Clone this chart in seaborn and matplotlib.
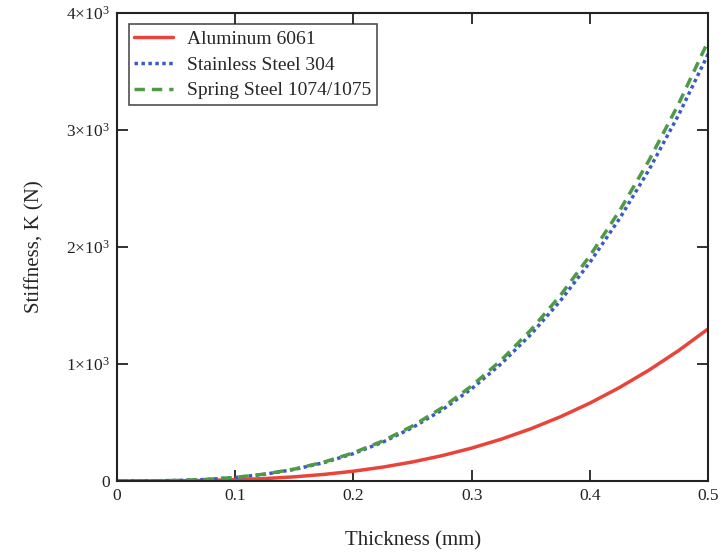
import numpy as np
import pandas as pd
import seaborn as sns
import matplotlib.pyplot as plt

# Values (thickness in mm, stiffness in N)
thickness = [0.0, 0.025, 0.05, 0.075, 0.1, 0.125, 0.15, 0.175, 0.2, 0.225, 0.25,
             0.275, 0.3, 0.325, 0.35, 0.375, 0.4, 0.425, 0.45, 0.475, 0.5]
aluminum = [0, 0.2, 1.3, 4.4, 10.4, 20.3, 35.1, 55.7, 83.2, 118.5, 162.5,
            216.3, 280.8, 357.0, 445.9, 548.4, 665.6, 798.4, 947.7, 1114.6, 1300]
stainless = [0, 0.5, 3.7, 12.3, 29.2, 57.0, 98.6, 156.5, 233.6, 332.6, 456.3,
             607.3, 788.4, 1002.4, 1252.0, 1539.8, 1868.8, 2241.6, 2660.9, 3129.4, 3650]
spring = [0, 0.5, 3.8, 12.7, 30.1, 58.8, 101.5, 161.2, 240.6, 342.6, 470.0,
          625.6, 812.2, 1032.6, 1289.7, 1586.3, 1925.1, 2309.1, 2741.0, 3223.7, 3760]

series_names = ["Aluminum 6061", "Stainless Steel 304", "Spring Steel 1074/1075"]
x_ticks = [0, 0.1, 0.2, 0.3, 0.4, 0.5]
x_tick_labels = ["0", "0.1", "0.2", "0.3", "0.4", "0.5"]
y_ticks = [0, 1000, 2000, 3000, 4000]
y_tick_labels = ["0", r"$1{\times}10^{3}$", r"$2{\times}10^{3}$", r"$3{\times}10^{3}$", r"$4{\times}10^{3}$"]

df = pd.DataFrame({"Thickness": thickness * 3,
                   "Stiffness": aluminum + stainless + spring,
                   "Material": [n for n in series_names for _ in thickness]})

sns.set_style("ticks")
plt.rcParams["font.family"] = ["Liberation Serif", "DejaVu Serif"]
plt.rcParams["mathtext.fontset"] = "custom"
plt.rcParams["mathtext.rm"] = "Liberation Serif"
plt.rcParams["mathtext.it"] = "Liberation Serif:italic"

colors = {"Aluminum 6061": "#e8443a",
          "Stainless Steel 304": "#3a5bc4",
          "Spring Steel 1074/1075": "#4f9a45"}
styles = {"Aluminum 6061": "-",
          "Stainless Steel 304": (0, (1, 1)),
          "Spring Steel 1074/1075": (0, (3, 2))}

fig = plt.figure(figsize=(7.22, 5.56), dpi=100)
ax = fig.add_axes([0.162, 0.135, 0.819, 0.842])

for name in series_names:
    sub = df[df["Material"] == name]
    sns.lineplot(data=sub, x="Thickness", y="Stiffness", ax=ax, color=colors[name],
                 linewidth=2.5, label=name, linestyle=styles[name])

ax.set_xlim(0, 0.5)
ax.set_ylim(0, 4000)
ax.set_xticks(x_ticks)
ax.set_xticklabels(x_tick_labels)
ax.set_yticks(y_ticks)
ax.set_yticklabels(y_tick_labels)
ax.tick_params(direction="in", length=8, width=1.3, top=True, right=True,
               labelsize=12.5, colors="#222222", pad=5)
for s in ax.spines.values():
    s.set_linewidth(1.5)
    s.set_color("#222222")

ax.set_xlabel("Thickness (mm)", fontsize=15, labelpad=20)
ax.set_ylabel("Stiffness, K (N)", fontsize=15, labelpad=16)

leg = ax.legend(loc="upper left", fontsize=14, frameon=True, fancybox=False,
                edgecolor="#222222", handlelength=2.0, borderaxespad=0.6,
                labelspacing=0.42, borderpad=0.3, handletextpad=0.7)
leg.get_frame().set_linewidth(1.2)

plt.savefig("out.png", dpi=100)
